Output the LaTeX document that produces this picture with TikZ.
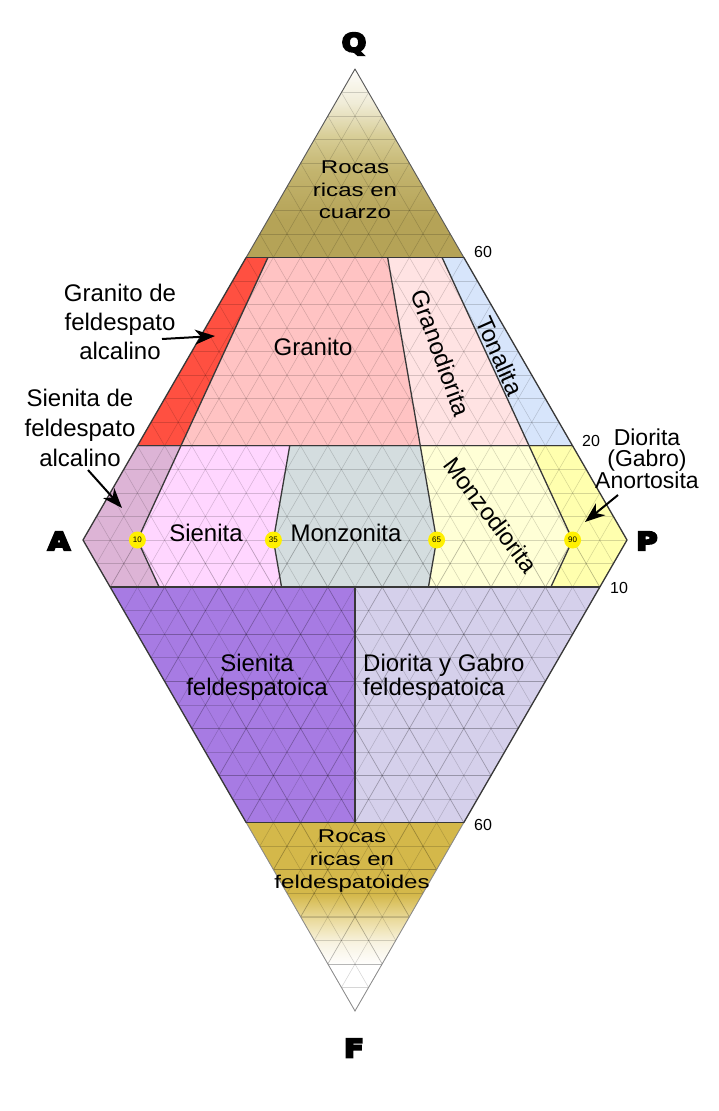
\documentclass[tikz,border=0pt]{standalone}
\usepackage{fontspec}
\setmainfont{Liberation Sans}
\newfontfamily\widefont[FakeStretch=1.3]{Liberation Sans}
\newfontfamily\heavyfont[FakeBold=9,FakeStretch=1.15]{DejaVu Sans}
\usetikzlibrary{calc,arrows.meta}

\definecolor{qolive}{HTML}{B5A357}
\definecolor{qk1}{HTML}{C3B46E}
\definecolor{qk2}{HTML}{D7CD96}
\definecolor{qk3}{HTML}{F0ECD7}
\definecolor{qk4}{HTML}{FCFBF6}
\definecolor{fgold}{HTML}{D4B84A}
\definecolor{fpale}{HTML}{EBDCA0}
\definecolor{fcream}{HTML}{F8F3E2}
\definecolor{cAlkGr}{HTML}{FF5041}
\definecolor{cGr}{HTML}{FFC3C3}
\definecolor{cGd}{HTML}{FFE3E3}
\definecolor{cTo}{HTML}{D7E5FB}
\definecolor{cAkSy}{HTML}{DDB4D6}
\definecolor{cSy}{HTML}{FFD6FF}
\definecolor{cMz}{HTML}{D4DDDF}
\definecolor{cMzd}{HTML}{FFFFD6}
\definecolor{cDi}{HTML}{FFFFAE}
\definecolor{cFSy}{HTML}{A77BE3}
\definecolor{cFDi}{HTML}{D5D0EB}
\definecolor{dotyellow}{HTML}{FFF000}

\pgfdeclareverticalshading{qshade}{100bp}{color(0bp)=(qolive); color(35bp)=(qolive); color(48bp)=(qk1); color(57bp)=(qk2); color(66bp)=(qk3); color(74bp)=(qk4); color(100bp)=(white)}
\pgfdeclareverticalshading{fshade}{100bp}{color(0bp)=(white); color(37bp)=(white); color(43bp)=(fcream); color(49bp)=(fpale); color(56bp)=(fgold); color(100bp)=(fgold)}

\begin{document}
\begin{tikzpicture}[x=1pt,y=-1pt,
  border/.style={draw=black!78, line width=1.3pt, line join=round},
  thinborder/.style={draw=black!65, line width=0.9pt, line join=round},
  gridln/.style={draw=black, draw opacity=0.16, line width=0.55pt},
  gridlnb/.style={draw=black, draw opacity=0.14, line width=0.7pt},
  lab/.style={font=\fontsize{24}{29}\selectfont, align=center, inner sep=0pt},
  wlab/.style={font=\widefont\fontsize{18.5}{22.5}\selectfont, align=center, inner sep=0pt},
  vlab/.style={font=\heavyfont\bfseries\fontsize{25}{25}\selectfont, inner sep=0pt},
  num/.style={font=\fontsize{16}{16}\selectfont, inner sep=0pt},
  dot/.style={circle, fill=dotyellow, minimum size=17pt, inner sep=0pt, font=\fontsize{8}{8}\selectfont},
  arr/.style={-{Stealth[length=20pt,width=15pt,inset=6pt]}, line width=2pt, draw=black},
]
\useasboundingbox (0,0) rectangle (718,1111);
\fill[white] (0,0) rectangle (718,1111);

% vertices
\coordinate (A) at (83,540);
\coordinate (P) at (627,540);
\coordinate (Q) at (355,69);
\coordinate (F) at (355,1011);
\coordinate (b10) at ($(A)!0.10!(P)$);
\coordinate (b35) at ($(A)!0.35!(P)$);
\coordinate (b50) at ($(A)!0.50!(P)$);
\coordinate (b65) at ($(A)!0.65!(P)$);
\coordinate (b90) at ($(A)!0.90!(P)$);
\coordinate (a60) at ($(A)!0.6!(Q)$);
\coordinate (a20) at ($(A)!0.2!(Q)$);
\coordinate (p60) at ($(P)!0.6!(Q)$);
\coordinate (p20) at ($(P)!0.2!(Q)$);
\coordinate (af10) at ($(A)!0.1!(F)$);
\coordinate (af60) at ($(A)!0.6!(F)$);
\coordinate (pf10) at ($(P)!0.1!(F)$);
\coordinate (pf60) at ($(P)!0.6!(F)$);
\coordinate (b10q60) at ($(b10)!0.6!(Q)$);
\coordinate (b10q20) at ($(b10)!0.2!(Q)$);
\coordinate (b10f10) at ($(b10)!0.1!(F)$);
\coordinate (b35q20) at ($(b35)!0.2!(Q)$);
\coordinate (b35f10) at ($(b35)!0.1!(F)$);
\coordinate (b65q60) at ($(b65)!0.6!(Q)$);
\coordinate (b65q20) at ($(b65)!0.2!(Q)$);
\coordinate (b65f10) at ($(b65)!0.1!(F)$);
\coordinate (b90q60) at ($(b90)!0.6!(Q)$);
\coordinate (b90q20) at ($(b90)!0.2!(Q)$);
\coordinate (b90f10) at ($(b90)!0.1!(F)$);
\coordinate (b50f10) at ($(b50)!0.1!(F)$);
\coordinate (b50f60) at ($(b50)!0.6!(F)$);

% fills
\shade[shading=qshade] (Q) -- (a60) -- (p60) -- cycle;
\shade[shading=fshade] (F) -- (af60) -- (pf60) -- cycle;
\fill[cAlkGr] (a20) -- (a60) -- (b10q60) -- (b10q20) -- cycle;
\fill[cGr] (b10q20) -- (b10q60) -- (b65q60) -- (b65q20) -- cycle;
\fill[cGd] (b65q20) -- (b65q60) -- (b90q60) -- (b90q20) -- cycle;
\fill[cTo] (b90q20) -- (b90q60) -- (p60) -- (p20) -- cycle;
\fill[cAkSy] (a20) -- (b10q20) -- (b10) -- (b10f10) -- (af10) -- (A) -- cycle;
\fill[cSy] (b10q20) -- (b35q20) -- (b35) -- (b35f10) -- (b10f10) -- (b10) -- cycle;
\fill[cMz] (b35q20) -- (b65q20) -- (b65) -- (b65f10) -- (b35f10) -- (b35) -- cycle;
\fill[cMzd] (b65q20) -- (b90q20) -- (b90) -- (b90f10) -- (b65f10) -- (b65) -- cycle;
\fill[cDi] (b90q20) -- (p20) -- (P) -- (pf10) -- (b90f10) -- (b90) -- cycle;
\fill[cFSy] (af10) -- (b50f10) -- (b50f60) -- (af60) -- cycle;
\fill[cFDi] (b50f10) -- (pf10) -- (pf60) -- (b50f60) -- cycle;

% triangular grid
\begin{scope}
\clip (A) -- (Q) -- (P) -- (F) -- cycle;
\foreach \k in {-20,...,20} \draw[gridln] (60,{540+23.55*\k}) -- (660,{540+23.55*\k});
\foreach \k in {0,...,20} {
  \draw[gridln] ({83+27.2*\k-300},1059.6) -- ({83+27.2*\k+300},20.4);
  \draw[gridln] ({83+27.2*\k+300},1059.6) -- ({83+27.2*\k-300},20.4);
}
\end{scope}
\begin{scope}
\clip (A) -- (P) -- (F) -- cycle;
\foreach \k in {1,...,10} \draw[gridlnb] (60,{540+47.1*\k}) -- (660,{540+47.1*\k});
\foreach \k in {0,...,10} {
  \draw[gridlnb] ({83+54.4*\k-300},1059.6) -- ({83+54.4*\k+300},20.4);
  \draw[gridlnb] ({83+54.4*\k+300},1059.6) -- ({83+54.4*\k-300},20.4);
}
\end{scope}

% borders
\draw[thinborder] (a60) -- (Q) -- (p60);
\draw[draw=black!45, line width=0.8pt] (af60) -- (F) -- (pf60);
\draw[border] (a60) -- (p60);
\draw[border] (a20) -- (p20);
\draw[border] (af10) -- (pf10);
\draw[border] (af60) -- (pf60);
\draw[border] (a60) -- (A) -- (af60);
\draw[border] (p60) -- (P) -- (pf60);
\draw[border] (b10q60) -- (b10) -- (b10f10);
\draw[border] (b35q20) -- (b35) -- (b35f10);
\draw[border] (b65q60) -- (b65) -- (b65f10);
\draw[border] (b90q60) -- (b90) -- (b90f10);
\draw[border] (b50f10) -- (b50f60);

% dots
\node[dot] (d10) at (b10) {10};
\node[dot] (d35) at (b35) {35};
\node[dot] (d65) at (b65) {65};
\node[dot] (d90) at (b90) {90};

% vertex labels
\node[vlab] (vQ) at (354,44) {Q};
\node[vlab] (vA) at (59,541) {A};
\node[vlab] (vP) at (647,541) {P};
\node[vlab] (vF) at (354,1048) {F};

% numbers
\node[num] (n60a) at (483,252) {60};
\node[num] (n20) at (591,441) {20};
\node[num] (n10) at (619,588) {10};
\node[num] (n60b) at (483,825) {60};

% region labels
\node[wlab] (rq) at (355,190) {Rocas\\ricas en\\cuarzo};
\node[lab] (lga) at (120,322) {Granito de\\feldespato\\alcalino};
\node[lab, font=\fontsize{24}{30}\selectfont] (lsa) at (80,428) {Sienita de\\feldespato\\alcalino};
\node[lab] (lgr) at (313,347) {Granito};
\node[lab, rotate=-70] (lgd) at (441,353) {Granodiorita};
\node[lab, rotate=-66] (lto) at (500,356) {Tonalita};
\node[lab] (lsy) at (206,533) {Sienita};
\node[lab] (lmz) at (346,533) {Monzonita};
\node[lab, rotate=-53] (lmd) at (491,515) {Monzodiorita};
\node[lab, font=\fontsize{23}{20.5}\selectfont] (ldi) at (647,459) {Diorita\\(Gabro)\\Anortosita};
\node[lab, font=\fontsize{24}{24}\selectfont] (lfs) at (257,677) {Sienita\\feldespatoica};
\node[lab, font=\fontsize{24}{24}\selectfont, align=left, anchor=west] (lfd) at (363,677) {Diorita y Gabro\\feldespatoica};
\node[wlab, font=\widefont\fontsize{18.5}{23}\selectfont] (rf) at (352,861) {Rocas\\ricas en\\feldespatoides};

% arrows
\coordinate (t1) at (162,339); \coordinate (h1) at (215,336);
\coordinate (t2) at (88,470);  \coordinate (h2) at (122,508);
\coordinate (t3) at (618,495); \coordinate (h3) at (585,522);
\draw[arr] (t1) -- (h1);
\draw[arr] (t2) -- (h2);
\draw[arr] (t3) -- (h3);
\end{tikzpicture}
\end{document}
